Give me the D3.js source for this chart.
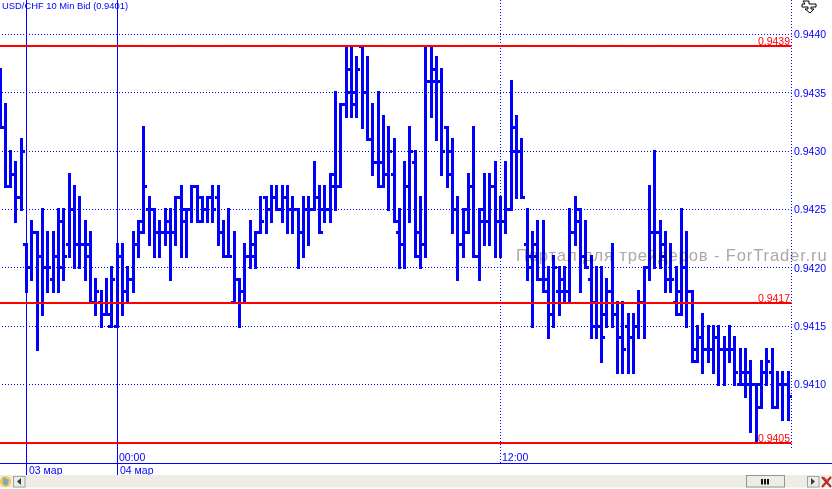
<!DOCTYPE html>
<html>
<head>
<meta charset="utf-8">
<script src="https://cdn.jsdelivr.net/npm/d3@7"></script>
<style>
  html, body { margin: 0; padding: 0; background: #fff; overflow: hidden; }
  svg { display: block; font-family: "Liberation Sans", Arial, sans-serif; }
</style>
</head>
<body>
<div id="chart"></div>
<script>
// USD/CHF 10 min bars, prices are in 1/10000
var bidHigh = [9437,9434,9430,9429,9431,9422,9424,9423,9425,9423,9423,9425,9425,9428,9427,9426,9424,9423,9419,9418,
  9419,9420,9422,9422,9420,9423,9424,9432,9426,9425,9424,9425,9425,9426,9427,9425,9427,9427,9426,9426,
  9427,9427,9424,9425,9423,9419,9422,9424,9423,9426,9426,9427,9427,9427,9427,9426,9425,9426,9426,9429,
  9427,9427,9428,9435,9434,9439,9439,9438,9439,9438,9434,9435,9433,9432,9431,9425,9429,9432,9430,9426,
  9439,9439,9438,9437,9432,9431,9426,9425,9428,9432,9425,9428,9428,9429,9426,9429,9436,9433,9431,9425,
  9423,9424,9424,9420,9421,9420,9420,9425,9426,9425,9424,9421,9420,9420,9419,9422,9417,9417,9416,9416,
  9418,9420,9427,9430,9424,9423,9422,9420,9425,9423,9418,9415,9416,9415,9415,9415,9414,9415,9414,9413,
  9413,9412,9410,9412,9413,9413,9411,9411,9411];
var bidLow = [9432,9427,9427,9424,9425,9418,9419,9413,9416,9418,9418,9418,9419,9421,9420,9420,9419,9417,9416,9415,
  9416,9415,9415,9416,9417,9418,9421,9423,9422,9421,9421,9422,9419,9422,9421,9421,9424,9424,9424,9424,
  9424,9422,9421,9421,9417,9415,9417,9420,9420,9423,9423,9424,9425,9424,9423,9423,9420,9421,9422,9425,
  9423,9424,9424,9425,9427,9433,9433,9433,9432,9431,9428,9427,9427,9425,9424,9420,9420,9424,9421,9420,
  9421,9433,9431,9428,9427,9423,9419,9421,9423,9421,9419,9422,9422,9421,9421,9423,9425,9426,9426,9419,
  9415,9419,9418,9414,9415,9416,9417,9417,9422,9418,9420,9414,9414,9412,9415,9415,9411,9411,9411,9411,
  9414,9414,9419,9420,9420,9418,9418,9416,9416,9415,9412,9412,9411,9412,9411,9410,9410,9412,9410,9410,
  9409,9406,9405,9408,9410,9408,9408,9407,9407];
var bidOpen = [9432,9432,9427,9428,9426,9422,9420,9423,9421,9420,9419,9421,9420,9422,9425,9422,9422,9421,9417,9417,
  9416,9415,9415,9421,9418,9419,9422,9423,9425,9425,9423,9423,9424,9423,9426,9425,9425,9427,9424,9425,
  9426,9426,9423,9421,9417,9419,9418,9421,9422,9423,9426,9425,9426,9425,9426,9425,9425,9423,9425,9425,
  9426,9425,9425,9428,9427,9434,9437,9435,9439,9435,9431,9429,9429,9428,9428,9423,9422,9427,9429,9421,
  9422,9436,9437,9436,9432,9430,9425,9422,9425,9427,9421,9425,9424,9427,9424,9424,9425,9432,9430,9422,
  9421,9422,9419,9418,9416,9418,9419,9418,9423,9425,9421,9419,9417,9415,9416,9418,9416,9414,9415,9414,
  9415,9417,9420,9423,9423,9422,9419,9417,9418,9420,9418,9412,9414,9413,9413,9414,9413,9413,9413,9410,
  9410,9410,9410,9408,9411,9411,9408,9410,9410];
var bidClose = [9432,9427,9428,9426,9430,9420,9423,9421,9420,9420,9421,9424,9421,9425,9422,9422,9422,9417,9418,9416,
  9416,9419,9421,9418,9419,9422,9424,9427,9425,9423,9423,9423,9423,9426,9424,9425,9427,9426,9425,9426,
  9425,9423,9421,9421,9419,9418,9421,9421,9423,9424,9425,9426,9425,9426,9425,9425,9423,9425,9425,9426,
  9423,9425,9427,9427,9434,9435,9434,9437,9435,9431,9429,9427,9428,9430,9424,9422,9427,9430,9423,9422,
  9436,9436,9436,9430,9428,9425,9422,9423,9427,9421,9424,9424,9427,9424,9424,9425,9430,9430,9426,9420,
  9421,9419,9419,9416,9420,9418,9418,9423,9424,9421,9420,9415,9415,9414,9418,9416,9414,9413,9414,9415,
  9417,9420,9423,9423,9421,9419,9419,9416,9420,9418,9413,9414,9413,9413,9414,9413,9413,9413,9411,9411,
  9411,9410,9410,9411,9412,9408,9410,9410,9409];

var priceTicks = [9440,9435,9430,9425,9420,9415,9410];
var levelValues = [9439,9417,9405];
var levelLabels = ["0.9439","0.9417","0.9405"];
var dayBars = [5,22];
var dayLabels = ["03 мар","04 мар"];
var hourBars = [22,94];
var hourLabels = ["00:00","12:00"];
var titleText = "USD/CHF 10 Min Bid (0.9401)";
var watermarkText = "Портал для трейдеров - ForTrader.ru";

var width = 832, height = 489,
    axisX = 791.5;

var svg = d3.select("#chart")
  .append("svg")
  .attr("width", width)
  .attr("height", height);

var x = d3.scaleLinear().domain([0, 148]).range([0, 788]);
var y = d3.scaleLinear().domain([9405, 9440]).range([442.83, 34.5]);

// dotted grid
svg.append("g").selectAll("line")
  .data(priceTicks)
  .enter().append("line")
  .attr("x1", 2).attr("x2", axisX)
  .attr("y1", function(d) { return Math.floor(y(d)) + 0.5; })
  .attr("y2", function(d) { return Math.floor(y(d)) + 0.5; })
  .attr("stroke", "#0000ff")
  .attr("stroke-dasharray", "1,2");

// right border and the 12:00 separator
svg.append("line")
  .attr("x1", axisX).attr("x2", axisX)
  .attr("y1", 0).attr("y2", 449)
  .attr("stroke", "#0000ff")
  .attr("stroke-dasharray", "1,2");

svg.append("g").selectAll("line")
  .data(hourBars.slice(1))
  .enter().append("line")
  .attr("x1", function(d) { return Math.floor(x(d)) + 0.5; })
  .attr("x2", function(d) { return Math.floor(x(d)) + 0.5; })
  .attr("y1", 0).attr("y2", 463)
  .attr("stroke", "#0000ff")
  .attr("stroke-dasharray", "1,2");

// day separators
svg.append("g").selectAll("line")
  .data(dayBars)
  .enter().append("line")
  .attr("x1", function(d) { return Math.floor(x(d)) + 0.5; })
  .attr("x2", function(d) { return Math.floor(x(d)) + 0.5; })
  .attr("y1", 0).attr("y2", 475)
  .attr("stroke", "#0000ff");

svg.append("line")
  .attr("x1", 0).attr("x2", width)
  .attr("y1", 463.5).attr("y2", 463.5)
  .attr("stroke", "#0000ff");

// bars
var bars = svg.append("g").attr("shape-rendering", "crispEdges").attr("fill", "#0000ff");
var barIndex = d3.range(bidHigh.length);

bars.selectAll("rect.hl")
  .data(barIndex)
  .enter().append("rect")
  .attr("class", "hl")
  .attr("x", function(i) { return Math.floor(x(i)) - 1; })
  .attr("width", 3)
  .attr("y", function(i) { return Math.floor(y(bidHigh[i])) - 1; })
  .attr("height", function(i) { return Math.floor(y(bidLow[i])) - Math.floor(y(bidHigh[i])) + 3; });

bars.selectAll("rect.open")
  .data(barIndex)
  .enter().append("rect")
  .attr("class", "open")
  .attr("x", function(i) { return Math.floor(x(i)) - 3; })
  .attr("width", 3)
  .attr("y", function(i) { return Math.floor(y(bidOpen[i])) - 1; })
  .attr("height", 3);

bars.selectAll("rect.close")
  .data(barIndex)
  .enter().append("rect")
  .attr("class", "close")
  .attr("x", function(i) { return Math.floor(x(i)) + 1; })
  .attr("width", 3)
  .attr("y", function(i) { return Math.floor(y(bidClose[i])) - 1; })
  .attr("height", 3);

// horizontal levels
svg.append("g").selectAll("rect")
  .data(levelValues)
  .enter().append("rect")
  .attr("x", 0)
  .attr("width", axisX)
  .attr("y", function(d) { return Math.round(y(d)) - 1; })
  .attr("height", 2)
  .attr("fill", "#ff0000");

svg.append("g").selectAll("text")
  .data(levelValues)
  .enter().append("text")
  .attr("x", 790)
  .attr("y", function(d) { return Math.round(y(d)) - 1.5; })
  .attr("text-anchor", "end")
  .attr("fill", "#ff0000")
  .attr("font-size", 10.5)
  .text(function(d, i) { return levelLabels[i]; });

// price axis
var yAxis = d3.axisRight(y)
  .tickValues(priceTicks)
  .tickSize(0)
  .tickPadding(0)
  .tickFormat(function(d) { return d3.format(".4f")(d / 10000); });

var axisG = svg.append("g")
  .attr("transform", "translate(794,0)")
  .call(yAxis);
axisG.select(".domain").remove();
axisG.selectAll("text")
  .attr("fill", "#0000ff")
  .attr("font-size", 10.5)
  .attr("font-family", "Liberation Sans");

// time labels
svg.append("g").selectAll("text")
  .data(hourBars)
  .enter().append("text")
  .attr("x", function(d) { return Math.floor(x(d)) + 2; })
  .attr("y", 461)
  .attr("fill", "#0000ff")
  .attr("font-size", 10.5)
  .text(function(d, i) { return hourLabels[i]; });

svg.append("g").selectAll("text")
  .data(dayBars)
  .enter().append("text")
  .attr("x", function(d) { return Math.floor(x(d)) + 3; })
  .attr("y", 474)
  .attr("fill", "#0000ff")
  .attr("font-size", 10.5)
  .text(function(d, i) { return dayLabels[i]; });

svg.append("text")
  .attr("x", 2).attr("y", 9)
  .attr("fill", "#0000ff")
  .attr("font-size", 9.4)
  .text(titleText);

// watermark sits over the bars
svg.append("text")
  .attr("x", 516).attr("y", 260.5)
  .attr("fill", "#b0a6a6")
  .attr("font-size", 16.6)
  .attr("letter-spacing", 0.85)
  .style("mix-blend-mode", "multiply")
  .text(watermarkText);

// window chrome at the bottom
var chrome = svg.append("g");
chrome.append("rect").attr("x", 0).attr("y", 475).attr("width", width).attr("height", 12.5).attr("fill", "#eeece4");

var globe = chrome.append("g");
globe.append("circle").attr("cx", 5.5).attr("cy", 481.5).attr("r", 5.5).attr("fill", "#f2c94c");
globe.append("path").attr("d", "M3 477L9 480L7 486L3 484Z").attr("fill", "#7ea8c8");

function scrollButton(bx, tri) {
  chrome.append("rect")
    .attr("x", bx + 0.5).attr("y", 476.5).attr("width", 11.5).attr("height", 10.5)
    .attr("fill", "#eeece4").attr("stroke", "#9aa5a5");
  chrome.append("path").attr("d", tri).attr("fill", "#24404f");
}
scrollButton(13, "M17 481.5L21 478V485Z");
scrollButton(807, "M811 478L815 481.5L811 485Z");

chrome.append("rect")
  .attr("x", 746.5).attr("y", 475.5).attr("width", 38).attr("height", 11.5)
  .attr("fill", "#eeece4").attr("stroke", "#8a9a9a");
chrome.selectAll("rect.grip")
  .data([761, 764, 767])
  .enter().append("rect")
  .attr("class", "grip")
  .attr("x", function(d) { return d; }).attr("y", 479)
  .attr("width", 2).attr("height", 5.5)
  .attr("fill", "#111");

chrome.append("path")
  .attr("d", "M822 477L831 487M831 477L822 487")
  .attr("stroke", "#c02020").attr("stroke-width", 2);
chrome.append("path")
  .attr("d", "M824 477L829 482")
  .attr("stroke", "#6a8a50").attr("stroke-width", 1);

// little mode icon top right
svg.append("path")
  .attr("d", "M803 1H809V4H816V7H811V9H814L810 13L805 9H808V7H802V4H805Z")
  .attr("fill", "#fff")
  .attr("stroke", "#000")
  .attr("stroke-width", 1);
</script>
</body>
</html>
